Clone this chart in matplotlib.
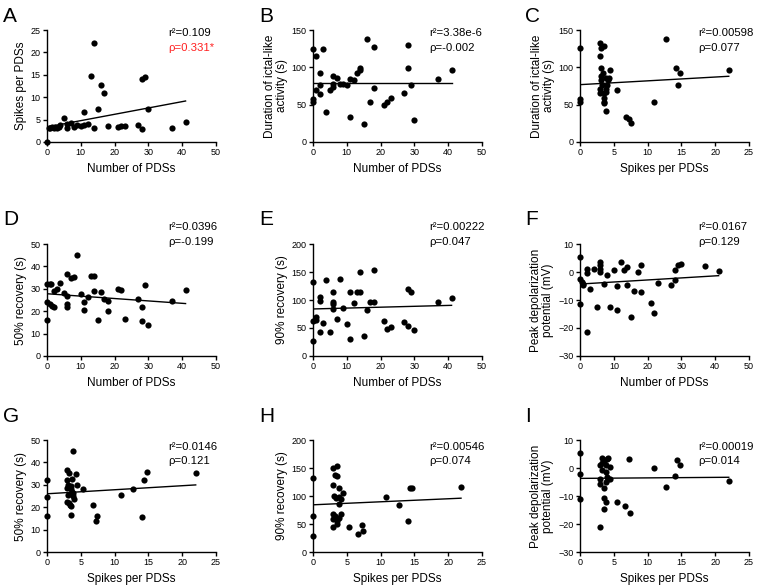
import numpy as np
import matplotlib.pyplot as plt

plt.rcParams['font.family'] = ['Liberation Sans', 'DejaVu Sans']

# A: spikes per PDS vs number of PDSs
a_x = [0, 0.5, 1, 1.5, 2, 2.5, 3, 3.5, 4, 5, 6, 6, 7, 8, 9, 10, 11, 11, 12, 13, 14, 14, 15, 16, 17,
       18, 21, 22, 23, 27, 28, 28, 29, 30, 37, 41]
a_y = [0, 3.2, 3.2, 3.3, 3.2, 3.3, 3.2, 3.4, 3.8, 5.3, 3.2, 4.0, 4.2, 3.3, 3.7, 3.5, 3.7, 6.7, 4.0, 14.8, 22, 3.1, 7.4,
       12.7, 10.9, 3.5, 3.4, 3.5, 3.5, 3.8, 14.1, 3.0, 14.4, 7.3, 3.1, 4.4]
a_fit = (3.35, 0.1415)

# B: duration vs number of PDSs
b_x = [0, 0, 0, 1, 1, 2, 2, 2, 3, 4, 5, 6, 6, 6, 7, 8, 9, 10, 11, 11, 12, 13, 14, 14, 15, 16, 17, 18, 18,
       21, 22, 23, 27, 28, 28, 29, 30, 37, 41]
b_y = [125, 57, 54, 115, 70, 92, 77, 64, 125, 40, 70, 88, 78, 73, 86, 78, 78, 76, 84, 33, 83, 92, 96, 99, 24,
       138, 54, 127, 72, 50, 54, 59, 66, 130, 99, 77, 30, 85, 96]
b_fit = (79.5, 0.0)

# C: duration vs spikes per PDS
c_x = [0, 0, 0, 3, 3.1, 3, 3.1, 3.6, 3.1, 3.4, 3.1, 3.8, 3.3, 3, 2.9, 3.5, 3.5, 3.5, 3.5, 3.8, 3.8, 4, 4.1,
       4.3, 4.5, 3.9, 5.4, 6.8, 7.3, 7.5, 10.9, 12.7, 14.2, 14.5, 14.8, 22]
c_y = [126, 57, 54, 132, 126, 115, 99, 128, 89, 92, 83, 86, 76, 71, 65, 66, 59, 54, 52, 41, 71, 77, 83,
       86, 96, 67, 70, 34, 31, 25, 54, 138, 99, 77, 93, 96]
c_fit = (76.8, 0.51)

# D: 50% recovery vs number of PDSs
d_x = [0, 0, 0, 1, 1.2, 1, 1.5, 2.1, 2, 3, 4, 5, 6, 6, 6, 6, 7, 8, 9, 10, 11, 11, 12, 13, 14, 14, 15, 16,
       17, 18, 18, 21, 22, 23, 27, 28, 28, 29, 30, 37, 41]
d_y = [16, 24, 32, 32.2, 32.3, 23, 22.5, 22, 29, 30, 32.5, 28, 36.6, 27, 23, 21.7, 35, 35.3, 45, 27.8, 20.7,
       24, 26.3, 35.9, 35.6, 28.9, 16, 28.4, 25.4, 24.7, 20.2, 30, 29.3, 16.5, 25.4, 21.7, 15.5, 31.8, 14,
       24.4, 29.6]
d_fit = (27.8, -0.107)

# E: 90% recovery vs number of PDSs
e_x = [0, 0, 0, 1, 1, 2, 2, 2, 3, 4, 5, 6, 6, 6, 6, 7, 8, 9, 10, 11, 11, 12, 13, 14, 14, 15, 16, 17, 18,
       18, 21, 22, 23, 27, 28, 28, 29, 30, 37, 41]
e_y = [131.5, 63, 27, 69, 65, 105, 98, 43, 59, 135, 42, 114, 96, 93, 84.5, 66, 137.5, 86, 58, 115, 30, 95,
       114, 115, 150, 36, 83, 96, 154, 96, 62, 49, 52, 60, 120, 54, 114, 47, 96, 103]
e_fit = (84.0, 0.158)

# F: peak depolarization vs number of PDSs
f_x = [0, 0, 0, 0.7, 1, 0.9, 2, 2, 2, 3, 4, 5, 6, 6, 6, 6, 7, 8, 9, 10, 11, 11, 12, 13, 14, 14, 15, 16,
       17, 18, 18, 21, 22, 23, 27, 28, 28, 29, 30, 37, 41]
f_y = [5.2, -2.5, -11.3, -3.7, -4.3, -4.8, 1.2, -0.4, -21.4, -6, 1.2, -12.4, 3.6, 2.6, 1.2, 0, -4.3, -1,
       -12.6, 0.6, -5.1, -13.7, 3.6, 0.8, 1.7, -4.8, -16.1, -6.7, -0.1, 2.4, -7.3, -11.1, -14.6, -3.9,
       -4.8, -3, 0.6, 2.6, 2.9, 2, 0.2]
f_fit = (-4.3, 0.073)

# G: 50% recovery vs spikes per PDS
g_x = [0, 0, 0, 3, 3.2, 3, 3.1, 3, 3.2, 3.5, 3.6, 3.1, 3, 3.2, 3.4, 3.6, 3.6, 3.7, 3.8, 3.7, 3.9, 3.8, 4,
       4.3, 4.5, 5.3, 6.8, 7.3, 7.4, 10.9, 12.7, 14.1, 14.4, 14.8, 22]
g_y = [32.2, 24.5, 16.2, 36.6, 35.5, 32.2, 30, 28.8, 29.2, 29.5, 28, 25.5, 22.5, 21.8, 21, 20.6, 16.6, 32.5,
       45.3, 27, 26.3, 24.8, 23.6, 34.9, 29.7, 28.2, 20.8, 14, 15.9, 25.5, 28.3, 15.6, 32.2, 35.9, 35.5]
g_fit = (26.0, 0.18)

# H: 90% recovery vs spikes per PDS
h_x = [0, 0, 0, 3, 3.1, 3, 3, 3, 3, 3.3, 3.5, 3.6, 3.4, 3.3, 3.6, 3.5, 3.6, 3.9, 3.9, 3.9, 3.8, 4.1, 4.2,
       4.5, 5.3, 6.6, 7.3, 7.4, 10.8, 12.7, 14, 14.4, 14.7, 21.9]
h_y = [131.7, 63.5, 28, 150.7, 100, 120, 67.7, 59.3, 44, 137.7, 153.7, 136, 97, 63.5, 60.5, 56, 50, 115,
       85.5, 60.5, 99, 94.4, 67.7, 105, 44, 32, 47.5, 38, 98, 84, 56, 115, 115, 115.7]
h_fit = (84.3, 0.54)

# I: peak depolarization vs spikes per PDS
i_x = [0, 0, 0, 3, 2.9, 3, 2.9, 3.2, 3.2, 3.3, 3.5, 3.5, 3.5, 3.5, 3.8, 3.8, 4, 4.1, 3.8, 4, 3.8, 4.1, 4.4,
       4.5, 5.4, 6.7, 7.4, 7.2, 10.9, 12.7, 14.1, 14.4, 14.8, 22]
i_y = [5.5, -2.3, -11, -21.2, -5.7, -4, 1.1, 1.9, 3.7, -0.7, 2.6, -7.2, -10.8, -14.6, -12, 1.1, 3.1, 3.7,
       -1.5, -3.3, -4.9, -4, -4, 0.2, -12.2, -13.5, -15.9, 3.1, 0.1, -6.6, -2.7, 2.8, 1.1, -4.6]
i_fit = (-3.7, 0.018)

pds_label = "Number of PDSs"
spk_label = "Spikes per PDSs"
pds_ticks = [0, 10, 20, 30, 40, 50]
spk_ticks = [0, 5, 10, 15, 20, 25]

fig = plt.figure(figsize=(7.6, 5.86), dpi=100)

cols = [0.0618, 0.4118, 0.7632]
rows = [0.7577, 0.3925, 0.058]
w, h = 0.2224, 0.1911
txt_x = [0.715, 0.69, 0.70]
txt_y = [(0.973, 0.84), (1.15, 1.018), (0.9375, 0.8125)]
# letter offsets in pixels (left of axes, above axes top)
let_dx = [44, 54, 55]
let_dy = [8, 19, 18]


def panel(r, c, letter, x, y, fit, xticks, yticks, xlabel, ylabel, r2, rho, rho_color='black'):
    ax = fig.add_axes([cols[c], rows[r], w, h])
    ax.scatter(x, y, s=20, c='black', linewidths=0, clip_on=False, zorder=3)
    xs = np.array([min(x), max(x)])
    ax.plot(xs, fit[0] + fit[1] * xs, color='black', lw=1)
    ax.set_xlim(xticks[0], xticks[-1])
    ax.set_ylim(yticks[0], yticks[-1])
    ax.set_xticks(xticks)
    ax.set_yticks(yticks)
    ax.spines['top'].set_visible(False)
    ax.spines['right'].set_visible(False)
    ax.spines['left'].set_linewidth(1)
    ax.spines['bottom'].set_linewidth(1)
    ax.tick_params(length=3, width=1, labelsize=6.5, pad=1.5)
    ax.set_xlabel(xlabel, fontsize=8.5, labelpad=4)
    ax.set_ylabel(ylabel, fontsize=8.5, labelpad=3, linespacing=1.0)
    ax.text(txt_x[c], txt_y[r][0], r2, transform=ax.transAxes, fontsize=8.2, va='center')
    ax.text(txt_x[c], txt_y[r][1], rho, transform=ax.transAxes, fontsize=8.2, va='center', color=rho_color)
    fig.text(cols[c] - let_dx[c] / 760, rows[r] + h + let_dy[r] / 586, letter, fontsize=15, va='baseline')
    return ax


panel(0, 0, "A", a_x, a_y, a_fit, pds_ticks, [0, 5, 10, 15, 20, 25], pds_label, "Spikes per PDSs",
      "r²=0.109", "ρ=0.331*", rho_color='#ff2020')
panel(0, 1, "B", b_x, b_y, b_fit, pds_ticks, [0, 50, 100, 150], pds_label,
      "Duration of ictal-like\nactivity (s)", "r²=3.38e-6", "ρ=-0.002")
panel(0, 2, "C", c_x, c_y, c_fit, spk_ticks, [0, 50, 100, 150], spk_label,
      "Duration of ictal-like\nactivity (s)", "r²=0.00598", "ρ=0.077")
panel(1, 0, "D", d_x, d_y, d_fit, pds_ticks, [0, 10, 20, 30, 40, 50], pds_label, "50% recovery (s)",
      "r²=0.0396", "ρ=-0.199")
panel(1, 1, "E", e_x, e_y, e_fit, pds_ticks, [0, 50, 100, 150, 200], pds_label, "90% recovery (s)",
      "r²=0.00222", "ρ=0.047")
panel(1, 2, "F", f_x, f_y, f_fit, pds_ticks, [-30, -20, -10, 0, 10], pds_label,
      "Peak depolarization\npotential (mV)", "r²=0.0167", "ρ=0.129")
panel(2, 0, "G", g_x, g_y, g_fit, spk_ticks, [0, 10, 20, 30, 40, 50], spk_label, "50% recovery (s)",
      "r²=0.0146", "ρ=0.121")
panel(2, 1, "H", h_x, h_y, h_fit, spk_ticks, [0, 50, 100, 150, 200], spk_label, "90% recovery (s)",
      "r²=0.00546", "ρ=0.074")
panel(2, 2, "I", i_x, i_y, i_fit, spk_ticks, [-30, -20, -10, 0, 10], spk_label,
      "Peak depolarization\npotential (mV)", "r²=0.00019", "ρ=0.014")

fig.savefig("out.png", dpi=100)
